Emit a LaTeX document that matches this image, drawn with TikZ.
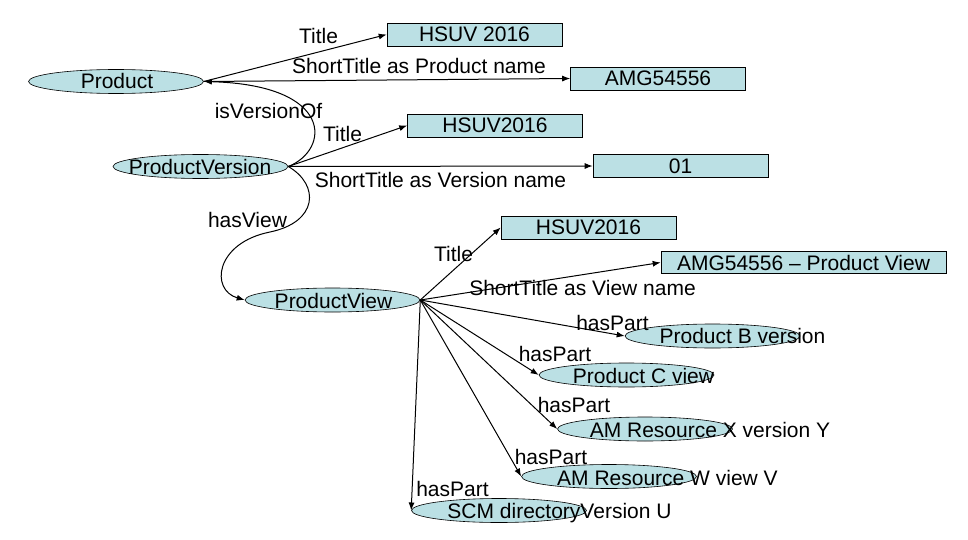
\documentclass[tikz,border=0pt]{standalone}
\usepackage{fontspec}
\setmainfont{Liberation Sans}
\usetikzlibrary{shapes.geometric,arrows.meta}
\definecolor{conceptfill}{RGB}{187,224,228}

\begin{document}
\begin{tikzpicture}[x=1pt,y=-1pt,
    every node/.style={font=\fontsize{21}{25}\selectfont, inner sep=0pt},
    concept/.style={ellipse, draw=black, line width=0.6pt, fill=conceptfill, minimum width=175pt, minimum height=24pt},
    literal/.style={rectangle, draw=black, line width=0.6pt, fill=conceptfill, minimum width=175pt, minimum height=23pt},
    lbl/.style={anchor=base},
    >={Latex[length=8pt,width=6pt]}]
    \useasboundingbox (0,0) rectangle (968,540);

    % Product
    \node[concept] (prod) at (116,81.5) {};
    \node[lbl] (prodtxt) at (117,89) {Product};
    \node[literal] (prodtitle) at (474.5,34.5) {HSUV 2016};
    \node[literal] (prodname) at (658,78.5) {AMG54556};
    \draw[->,line width=1pt] (prod.east) -- (prodtitle.west);
    \draw[->,line width=1pt] (prod.east) -- (prodname.west);
    \node[lbl] (lprodtitle) at (318.5,44) {Title};
    \node[lbl] (lprodname) at (419,74) {ShortTitle as Product name};

    % ProductVersion
    \node[concept] (pv) at (200.5,166.5) {};
    \node[lbl] (pvtxt) at (200,175) {ProductVersion};
    \node[literal] (pvtitle) at (495,125.5) {HSUV2016};
    \node[literal] (pvname) at (680.5,166) {01};
    \draw[->,line width=1pt] (pv.east) .. controls (330,150) and (335,85) .. (prod.east);
    \draw[->,line width=1pt] (pv.east) -- (pvtitle.west);
    \draw[->,line width=1pt] (pv.east) -- (pvname.west);
    \node[lbl] (lversionof) at (268.5,119) {isVersionOf};
    \node[lbl] (lpvtitle) at (342.5,142) {Title};
    \node[lbl] (lpvname) at (440.5,187) {ShortTitle as Version name};

    % ProductView
    \node[concept] (view) at (332.5,300) {};
    \node[lbl] (viewtxt) at (333.5,308) {ProductView};
    \node[literal] (viewtitle) at (588.5,227.5) {HSUV2016};
    \node[literal, minimum width=285pt, minimum height=22pt] (viewname) at (803.5,262.5) {AMG54556 – Product View};
    \draw[->,line width=1pt] (pv.east) .. controls (320,185) and (318,222) .. (270,232)
      .. controls (215,243) and (210,290) .. (view.west);
    \draw[->,line width=1pt] (view.east) -- (viewtitle.west);
    \draw[->,line width=1pt] (view.east) -- (viewname.west);
    \node[lbl] (lhasview) at (247.5,227) {hasView};
    \node[lbl] (lviewtitle) at (453.5,261) {Title};
    \node[lbl] (lviewname) at (582.5,295) {ShortTitle as View name};

    % parts of the view
    \node[concept] (partb) at (712.5,336) {};
    \node[lbl] (partbtxt) at (742.5,343.5) {Product B version};
    \node[concept] (partc) at (626.5,375) {};
    \node[lbl] (partctxt) at (643.5,383) {Product C view};
    \node[concept] (partx) at (645,429) {};
    \node[lbl] (partxtxt) at (710,437) {AM Resource X version Y};
    \node[concept] (partw) at (609,476.5) {};
    \node[lbl] (partwtxt) at (667.5,485) {AM Resource W view V};
    \node[concept] (scm) at (499,510.5) {};
    \node[lbl] (scmtxt) at (559.5,518) {SCM directoryVersion U};
    \foreach \p in {partb,partc,partx,partw,scm}
      \draw[->,line width=1pt] (view.east) -- (\p.west);
    \node[lbl] (lpartb) at (612.5,330) {hasPart};
    \node[lbl] (lpartc) at (555,361) {hasPart};
    \node[lbl] (lpartx) at (574,412) {hasPart};
    \node[lbl] (lpartw) at (551,464) {hasPart};
    \node[lbl] (lscm) at (452.5,496) {hasPart};
\end{tikzpicture}
\end{document}
